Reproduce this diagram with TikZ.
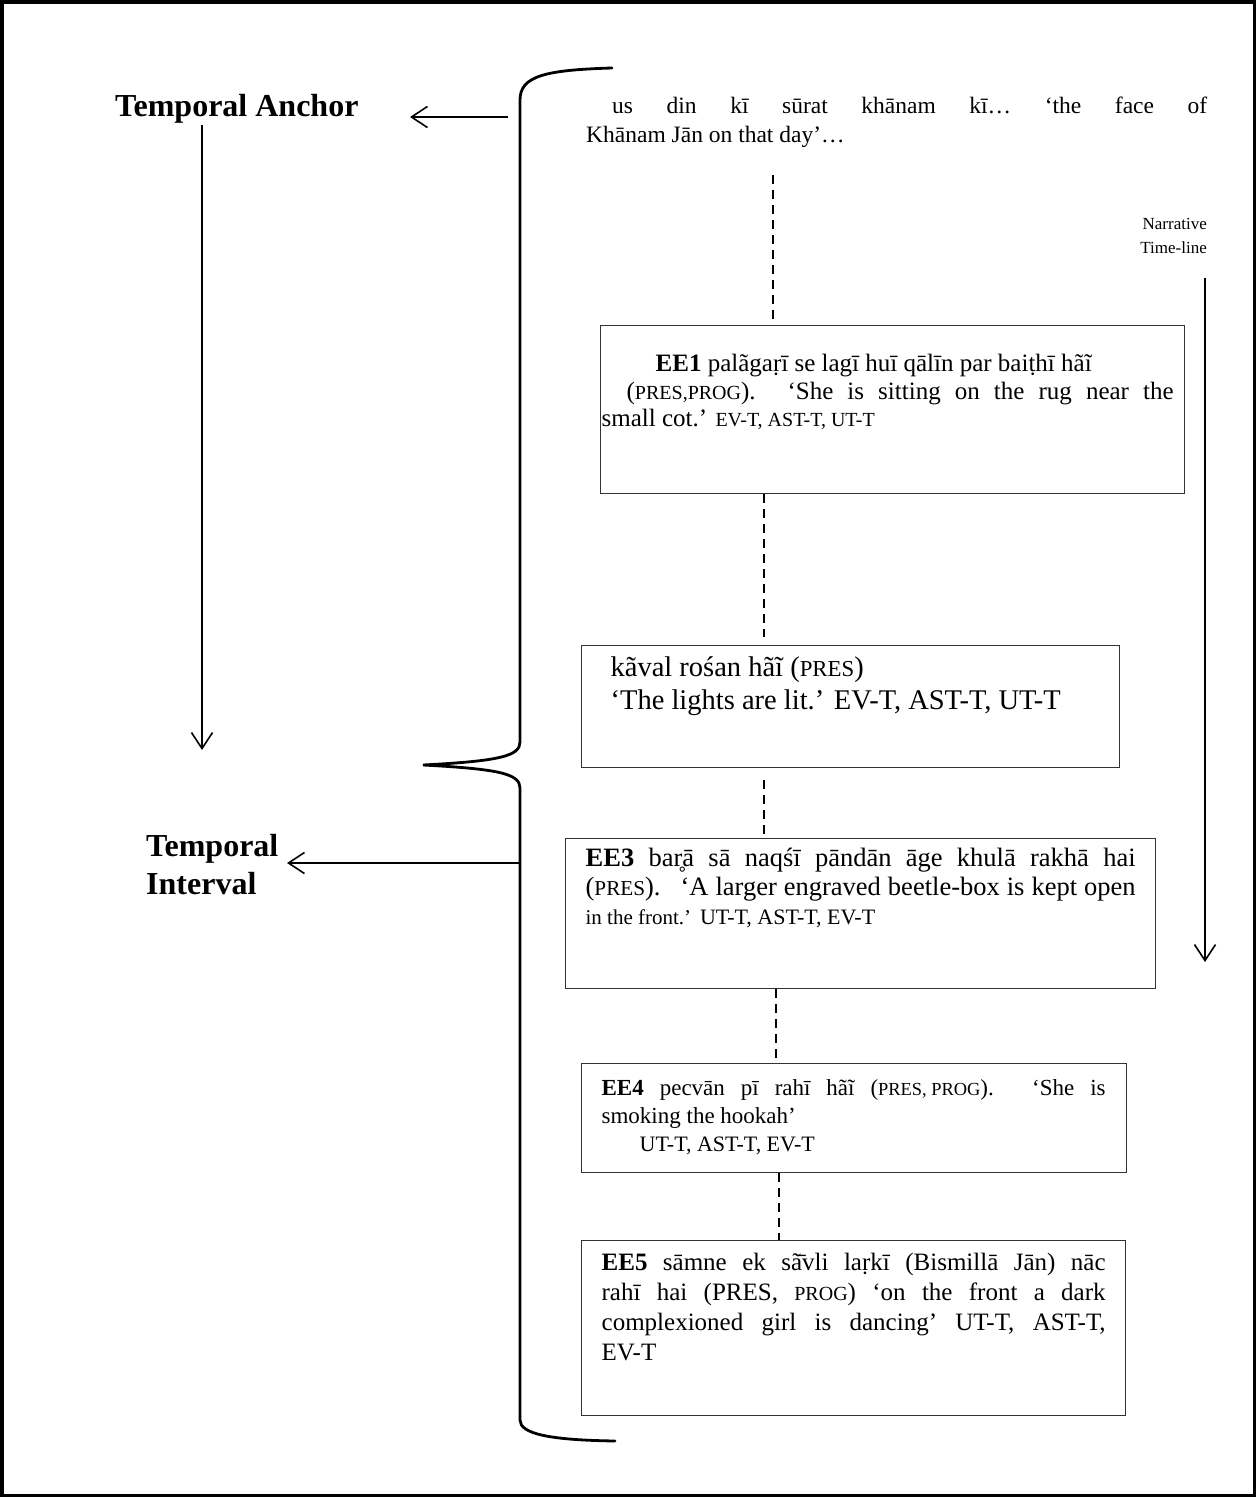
\documentclass[tikz,border=0pt]{standalone}
\usepackage{fontspec}
\setmainfont{Liberation Serif}
\usetikzlibrary{arrows.meta}
\newcommand\smc[1]{\scalebox{0.8}{#1}}
\newcommand\fs[1]{\fontsize{#1}{29}\selectfont}
\begin{document}
\begin{tikzpicture}[x=1pt,y=-1pt,
  box/.style={draw=black!80, line width=1.3pt, inner sep=0pt, anchor=north west},
  head/.style={font=\fontsize{32}{38}\selectfont\bfseries, inner sep=0pt},
  arr/.style={line width=1.6pt, -{Straight Barb[length=16pt,width=21pt,line width=1.6pt]}},
  dline/.style={line width=1.4pt, dash pattern=on 9pt off 6pt},
  brace/.style={line width=2.8pt, line cap=round}]
\useasboundingbox (0,0) rectangle (1256,1497);
\draw[line width=3.5pt] (1.75,1.75) rectangle (1254.25,1495.25);

% headings
\node[head, anchor=base west] (anchor) at (115,116) {Temporal Anchor};
\node[head, anchor=north west, align=left] (interval) at (146,834) {Temporal\\Interval};

% top text
\node[anchor=base west, inner sep=0pt] (top) at (586,113) {\parbox[t]{621pt}{\fontsize{23.5}{29}\selectfont\hspace*{26pt}us din kī sūrat khānam kī… ‘the face of\linebreak Khānam Jān on that day’…}};

% narrative label
\node[font=\fontsize{17}{24}\selectfont, align=right, anchor=north east, inner sep=0pt] (narr) at (1207,218) {Narrative\\Time-line};

% boxes
\node[box] (ee1) at (600,325) {\parbox[t][168pt][t]{584pt}{\fontsize{25}{27.5}\selectfont\leftskip=1pt\rightskip=11pt\vspace*{27pt}\strut\hspace*{54pt}\textbf{EE1} palãgaṛī se lagī huī qālīn par baiṭhī hãĩ\\\hspace*{25pt}(\smc{PRES,PROG}). ‘She is sitting on the rug near the\linebreak small cot.’ \smc{EV-T, AST-T, UT-T}}};

\node[box] (kaval) at (581,645) {\parbox[t][122pt][t]{538pt}{\fontsize{28.5}{33}\selectfont\leftskip=29pt\vspace*{8pt}\strut kãval rośan hãĩ (\smc{PRES})\\‘The lights are lit.’ EV-T, AST-T, UT-T}};

\node[box] (ee3) at (565,838) {\parbox[t][150pt][t]{590pt}{\fontsize{26.5}{29}\selectfont\leftskip=20pt\rightskip=20pt\vspace*{8pt}\strut\textbf{EE3} bar̥ā sā naqśī pāndān āge khulā rakhā hai\linebreak (\smc{PRES}).\hspace{10pt} ‘A larger engraved beetle-box is kept open\linebreak {\fs{21}in the front.’} {\fs{22}UT-T, AST-T, EV-T}}};

\node[box] (ee4) at (581,1063) {\parbox[t][109pt][t]{545pt}{\fontsize{23}{28}\selectfont\leftskip=20pt\rightskip=21pt\vspace*{12pt}\strut\textbf{EE4} pecvān pī rahī hãĩ (\smc{PRES, PROG}). ‘She is\linebreak smoking the hookah’\\\hspace*{38pt}{\fontsize{22}{28}\selectfont UT-T, AST-T, EV-T}}};

\node[box] (ee5) at (581,1240) {\parbox[t][175pt][t]{544pt}{\fontsize{25}{30}\selectfont\leftskip=20pt\rightskip=20pt\vspace*{9pt}\strut\textbf{EE5} sāmne ek sã̄vli laṛkī (Bismillā Jān) nāc\linebreak rahī hai (PRES, \smc{PROG}) ‘on the front a dark\linebreak complexioned girl is dancing’ UT-T, AST-T,\linebreak EV-T}};

% brace
\draw[brace] (612,68) .. controls (545,70) and (520,76) .. (520,100) -- (520,742) .. controls (520,756) and (500,761) .. (423,765) .. controls (500,769) and (520,774) .. (520,788) -- (520,1420) .. controls (520,1434) and (550,1440) .. (615,1441);

% coordinates
\coordinate (x1) at (773,0);
\coordinate (x2) at (764,0);
\coordinate (x3) at (776,0);
\coordinate (x4) at (779,0);
\coordinate (bt) at (508,117);
\coordinate (at) at (410,117);
\coordinate (ab) at (202,750);
\coordinate (bi) at (520,863);
\coordinate (it) at (287,863);
\coordinate (nb) at (1205,962);

% dashed connectors
\draw[dline, shorten <=28pt] (top.south -| x1) -- (ee1.north -| x1);
\draw[dline, shorten >=8pt] (ee1.south -| x2) -- (kaval.north -| x2);
\draw[dline, shorten <=12pt] (kaval.south -| x2) -- (ee3.north -| x2);
\draw[dline] (ee3.south -| x3) -- (ee4.north -| x3);
\draw[dline] (ee4.south -| x4) -- (ee5.north -| x4);

% arrows
\draw[arr] (bt) -- (at);
\draw[arr, shorten <=2pt] (anchor.south -| ab) -- (ab);
\draw[arr] (bi) -- (it);
\draw[arr, shorten <=24pt] (narr.south -| nb) -- (nb);
\end{tikzpicture}
\end{document}
